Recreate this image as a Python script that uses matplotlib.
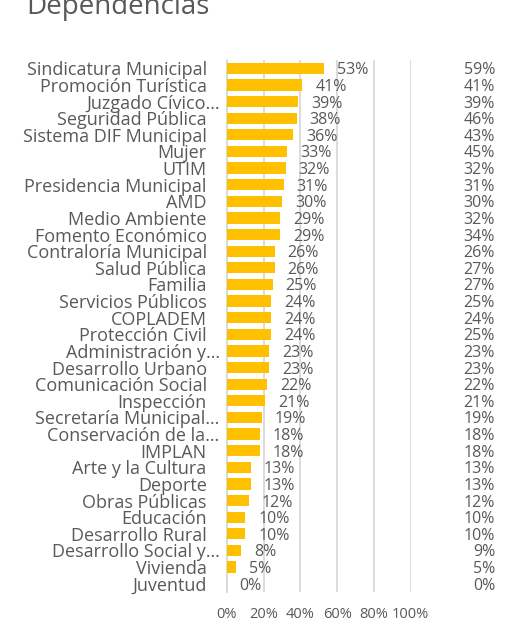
import matplotlib
matplotlib.use("Agg")
import matplotlib.pyplot as plt
from matplotlib.transforms import blended_transform_factory, ScaledTranslation
from matplotlib.ticker import PercentFormatter

categories = ["Sindicatura Municipal", "Promoción Turística", "Juzgado Cívico…",
              "Seguridad Pública", "Sistema DIF Municipal", "Mujer", "UTIM",
              "Presidencia Municipal", "AMD", "Medio Ambiente", "Fomento Económico",
              "Contraloría Municipal", "Salud Pública", "Familia", "Servicios Públicos",
              "COPLADEM", "Protección Civil", "Administración y…", "Desarrollo Urbano",
              "Comunicación Social", "Inspección", "Secretaría Municipal…",
              "Conservación de la…", "IMPLAN", "Arte y la Cultura", "Deporte",
              "Obras Públicas", "Educación", "Desarrollo Rural", "Desarrollo Social y…",
              "Vivienda", "Juventud"]
values = [53, 41, 39, 38, 36, 33, 32, 31, 30, 29, 29, 26, 26, 25, 24, 24, 24, 23, 23,
          22, 21, 19, 18, 18, 13, 13, 12, 10, 10, 8, 5, 0]
values2 = [59, 41, 39, 46, 43, 45, 32, 31, 30, 32, 34, 26, 27, 27, 25, 24, 25, 23, 23,
           22, 21, 19, 18, 18, 13, 13, 12, 10, 10, 9, 5, 0]
xticks = [0, 20, 40, 60, 80, 100]

plt.rcParams['font.family'] = ['Open Sans', 'DejaVu Sans']
TXT = '#595959'

fig = plt.figure(figsize=(5.14, 6.23), dpi=100)
ax = fig.add_axes([226.7/514, 1-592/623, 184/514, 532/623])

n = len(categories)
ypos = list(range(n))
ax.barh(ypos, values, height=0.68, color='#FFC000', zorder=3)
ax.set_ylim(n-0.5, -0.5)
ax.set_xlim(0, 100)
ax.set_xticks(xticks)
ax.xaxis.set_major_formatter(PercentFormatter(decimals=0))
ax.tick_params(axis='x', length=0, labelsize=10.5, labelcolor=TXT, pad=11)
ax.set_yticks(ypos)
ax.set_yticklabels([])
ax.tick_params(axis='y', length=0)
ax.grid(axis='x', color='#D9D9D9', linewidth=1.3, zorder=0)
for s in ['top', 'right', 'bottom']:
    ax.spines[s].set_visible(False)
ax.spines['left'].set_color('#D9D9D9')
ax.spines['left'].set_linewidth(1.3)

fs_cat = 13
fs = 11.5
tr2 = blended_transform_factory(fig.transFigure, ax.transData) + \
    ScaledTranslation(0, -2/100, fig.dpi_scale_trans)
for i, (c, v, v2) in enumerate(zip(categories, values, values2)):
    dx = 13/100 if c.endswith('…') else 0
    tr = ax.get_yaxis_transform() + ScaledTranslation(-20/100 + dx, 0, fig.dpi_scale_trans)
    ax.text(0, i, c, transform=tr, ha='right', va='center_baseline', fontsize=fs_cat, color=TXT)
    ax.annotate(f"{v}%", (v, i), xytext=(13, -2), textcoords='offset pixels',
                ha='left', va='center', fontsize=fs, color=TXT)
    ax.text(495/514, i, f"{v2}%", transform=tr2, ha='right', va='center',
            fontsize=fs, color=TXT, clip_on=False)

fig.text(26/514, 1-14/623, "Dependencias", fontsize=20, color=TXT,
         ha='left', va='baseline')

fig.savefig('out.png', dpi=100)
